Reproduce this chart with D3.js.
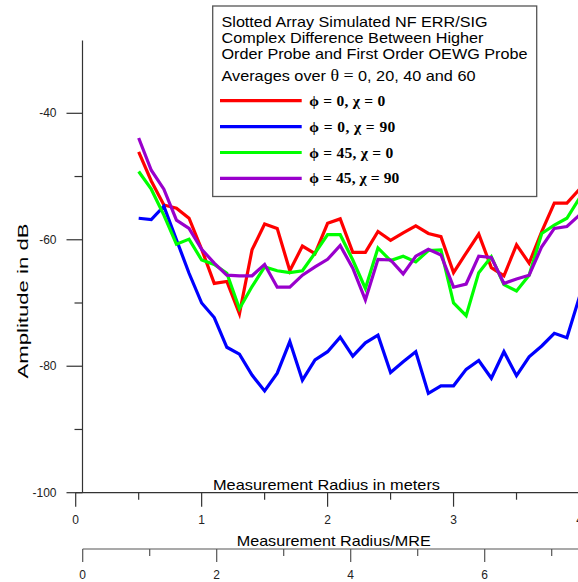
<!DOCTYPE html>
<html>
<head>
<meta charset="utf-8">
<script src="https://cdn.jsdelivr.net/npm/d3@7"></script>
<style>
  body { margin: 0; background: #fff; }
  svg { display: block; font-family: "Liberation Sans", Arial, sans-serif; }
</style>
</head>
<body>
<svg id="chart" width="578" height="582"></svg>
<script>
// radius in meters, 0.5 .. 4.0 step 0.1
const radius = [0.5,0.6,0.7,0.8,0.9,1.0,1.1,1.2,1.3,1.4,1.5,1.6,1.7,1.8,1.9,2.0,2.1,2.2,2.3,2.4,
  2.5,2.6,2.7,2.8,2.9,3.0,3.1,3.2,3.3,3.4,3.5,3.6,3.7,3.8,3.9,4.0];

const phi0chi0 = [-46.1,-50.7,-54.5,-55.0,-56.6,-61.5,-66.9,-66.6,-71.7,-61.6,-57.5,-58.2,-64.9,-61.0,-62.2,-57.4,-56.7,-62.0,
  -62.0,-58.7,-60.1,-58.9,-57.8,-59.0,-59.5,-65.2,-62.1,-59.1,-64.4,-65.7,-60.8,-63.7,-58.7,-54.2,-54.2,-52.0];
const phi0chi90 = [-56.6,-56.8,-54.7,-60.0,-65.3,-70.0,-72.3,-77.0,-78.1,-81.4,-83.9,-81.1,-76.1,-82.2,-79.0,-77.7,-75.4,-78.4,
  -76.3,-75.1,-81.0,-79.3,-77.7,-84.3,-83.1,-83.1,-80.5,-79.1,-81.9,-77.7,-81.5,-78.5,-76.8,-74.8,-75.5,-69.0];
const phi45chi0 = [-49.2,-52.0,-56.1,-60.7,-59.9,-63.2,-63.9,-65.3,-70.9,-67.4,-64.3,-64.9,-65.2,-64.9,-62.1,-59.2,-59.2,-63.2,
  -67.7,-61.3,-63.3,-62.6,-63.5,-61.7,-61.6,-70.0,-72.0,-65.2,-62.7,-67.1,-68.1,-65.6,-59.0,-57.7,-56.6,-53.4];
const phi45chi90 = [-43.9,-49.0,-52.0,-56.9,-58.2,-61.5,-63.7,-65.6,-65.7,-65.7,-63.9,-67.5,-67.5,-65.6,-64.3,-63.1,-60.9,-64.5,
  -69.5,-63.1,-63.2,-65.4,-62.6,-61.5,-62.4,-67.5,-67.0,-62.6,-62.8,-66.9,-66.2,-65.6,-61.1,-58.2,-57.9,-56.1];

const seriesNames = ["ϕ = 0, χ = 0", "ϕ = 0, χ = 90", "ϕ = 45, χ = 0", "ϕ = 45, χ = 90"];
const seriesColors = ["#ff0000", "#0000ff", "#00ff00", "#9900cc"];
const seriesValues = [phi0chi0, phi0chi90, phi45chi0, phi45chi90];

const titleLines = ["Slotted Array Simulated NF ERR/SIG",
  "Complex Difference Between Higher",
  "Order Probe and First Order OEWG Probe"];
const titleWidths = [266, 262, 306];
const labelWidths = [76, 86, 84, 90];

const yMajor = [-100, -80, -60, -40];
const yMinor = [-90, -70, -50];
const xMajor = [0, 1, 2, 3, 4];
const xMinor = [0.5, 1.5, 2.5, 3.5];
const mreMajor = [0, 2, 4, 6];
const mreMinor = [1, 3, 5, 7];

const svg = d3.select('#chart');

const x = d3.scaleLinear().domain([0, 4]).range([75.7, 579.5]);
const y = d3.scaleLinear().domain([-100, -40]).range([492.7, 113.3]);
const xMre = d3.scaleLinear().domain([0, 2]).range([82.7, 216.7]);
const yTop = -28.5;
const yAxisX = 82.5;

// y axis
const yAxis = svg.append('g').attr('transform', 'translate(' + yAxisX + ',0)');
yAxis.append('line')
  .attr('y1', y(yTop)).attr('y2', y(-100))
  .attr('stroke', '#333').attr('stroke-width', 1.2);
yAxis.selectAll('.ymaj').data(yMajor).enter().append('line')
  .attr('x1', -16).attr('x2', 0)
  .attr('y1', d => y(d)).attr('y2', d => y(d))
  .attr('stroke', '#333').attr('stroke-width', 1.2);
yAxis.selectAll('.ymin').data(yMinor).enter().append('line')
  .attr('x1', -8).attr('x2', 0)
  .attr('y1', d => y(d)).attr('y2', d => y(d))
  .attr('stroke', '#333').attr('stroke-width', 1.2);
yAxis.selectAll('.ylab').data(yMajor).enter().append('text')
  .attr('x', -26).attr('y', d => y(d) + 4)
  .attr('text-anchor', 'end')
  .attr('font-size', 12).attr('fill', '#222')
  .text(d => String(d));

svg.append('text')
  .attr('transform', 'translate(28,301) rotate(-90)')
  .attr('text-anchor', 'middle')
  .attr('font-size', 15.5)
  .attr('textLength', 155).attr('lengthAdjust', 'spacingAndGlyphs')
  .text('Amplitude in dB');

// x axis, meters
const xAxis = svg.append('g');
xAxis.append('line')
  .attr('x1', x(0)).attr('x2', 578)
  .attr('y1', y(-100)).attr('y2', y(-100))
  .attr('stroke', '#333').attr('stroke-width', 1.2);
xAxis.selectAll('.xmaj').data(xMajor).enter().append('line')
  .attr('x1', d => x(d)).attr('x2', d => x(d))
  .attr('y1', y(-100)).attr('y2', y(-100) + 14)
  .attr('stroke', '#333').attr('stroke-width', 1.2);
xAxis.selectAll('.xmin').data(xMinor).enter().append('line')
  .attr('x1', d => x(d)).attr('x2', d => x(d))
  .attr('y1', y(-100)).attr('y2', y(-100) + 7)
  .attr('stroke', '#333').attr('stroke-width', 1.2);
xAxis.selectAll('.xlab').data(xMajor).enter().append('text')
  .attr('x', d => x(d)).attr('y', 524)
  .attr('text-anchor', 'middle')
  .attr('font-size', 12).attr('fill', '#222')
  .text(d => String(d));
svg.append('text')
  .attr('x', 326.5).attr('y', 489.5)
  .attr('text-anchor', 'middle').attr('font-size', 15)
  .attr('textLength', 227).attr('lengthAdjust', 'spacingAndGlyphs')
  .text('Measurement Radius in meters');

// second x axis, radius / MRE
const mreY = 549;
const mreAxis = svg.append('g');
mreAxis.append('line')
  .attr('x1', xMre(0)).attr('x2', 578)
  .attr('y1', mreY).attr('y2', mreY)
  .attr('stroke', '#555').attr('stroke-width', 1.2);
mreAxis.selectAll('.mmaj').data(mreMajor).enter().append('line')
  .attr('x1', d => xMre(d)).attr('x2', d => xMre(d))
  .attr('y1', mreY).attr('y2', mreY + 13)
  .attr('stroke', '#555').attr('stroke-width', 1.2);
mreAxis.selectAll('.mmin').data(mreMinor).enter().append('line')
  .attr('x1', d => xMre(d)).attr('x2', d => xMre(d))
  .attr('y1', mreY).attr('y2', mreY + 7)
  .attr('stroke', '#555').attr('stroke-width', 1.2);
mreAxis.selectAll('.mlab').data(mreMajor).enter().append('text')
  .attr('x', d => xMre(d)).attr('y', 579)
  .attr('text-anchor', 'middle')
  .attr('font-size', 12).attr('fill', '#222')
  .text(d => String(d));
svg.append('text')
  .attr('x', 333.7).attr('y', 545.5)
  .attr('text-anchor', 'middle').attr('font-size', 15)
  .attr('textLength', 194).attr('lengthAdjust', 'spacingAndGlyphs')
  .text('Measurement Radius/MRE');

// series lines
const line = d3.line()
  .x((d, i) => x(radius[i]))
  .y(d => y(d));

svg.append('g').selectAll('path')
  .data(seriesValues)
  .enter().append('path')
  .attr('d', d => line(d))
  .attr('fill', 'none')
  .attr('stroke', (d, i) => seriesColors[i])
  .attr('stroke-width', 3.2)
  .attr('stroke-linejoin', 'miter');

// legend box
const legend = svg.append('g');
legend.append('rect')
  .attr('x', 212.7).attr('y', 6).attr('width', 324).attr('height', 190.5)
  .attr('fill', '#fff').attr('stroke', '#555').attr('stroke-width', 1.3);
legend.selectAll('.tl').data(titleLines).enter().append('text')
  .attr('x', 221.5).attr('y', (d, i) => 27 + i * 16)
  .attr('font-size', 15)
  .attr('textLength', (d, i) => titleWidths[i]).attr('lengthAdjust', 'spacingAndGlyphs')
  .text(d => d);
const avg = legend.append('text').attr('x', 221.5).attr('y', 80.5).attr('font-size', 15)
  .attr('textLength', 254).attr('lengthAdjust', 'spacingAndGlyphs');
avg.append('tspan').text('Averages over ');
avg.append('tspan').attr('font-family', '"Liberation Serif", serif').attr('font-size', 16.5).text('θ');
avg.append('tspan').attr('font-family', '"Liberation Serif", serif').attr('font-size', 16.5).text(' = ');
avg.append('tspan').text('0, 20, 40 and 60');

const items = legend.selectAll('.item').data(seriesNames).enter().append('g')
  .attr('transform', (d, i) => 'translate(0,' + (100.7 + i * 25.9) + ')');
items.append('line')
  .attr('x1', 220).attr('x2', 301.7)
  .attr('stroke', (d, i) => seriesColors[i]).attr('stroke-width', 3.2);
items.append('text')
  .attr('x', 309.3).attr('y', 5)
  .attr('font-family', '"Liberation Serif", serif')
  .attr('font-weight', 'bold').attr('font-size', 15.5)
  .attr('textLength', (d, i) => labelWidths[i]).attr('lengthAdjust', 'spacing')
  .text(d => d);
</script>
</body>
</html>
